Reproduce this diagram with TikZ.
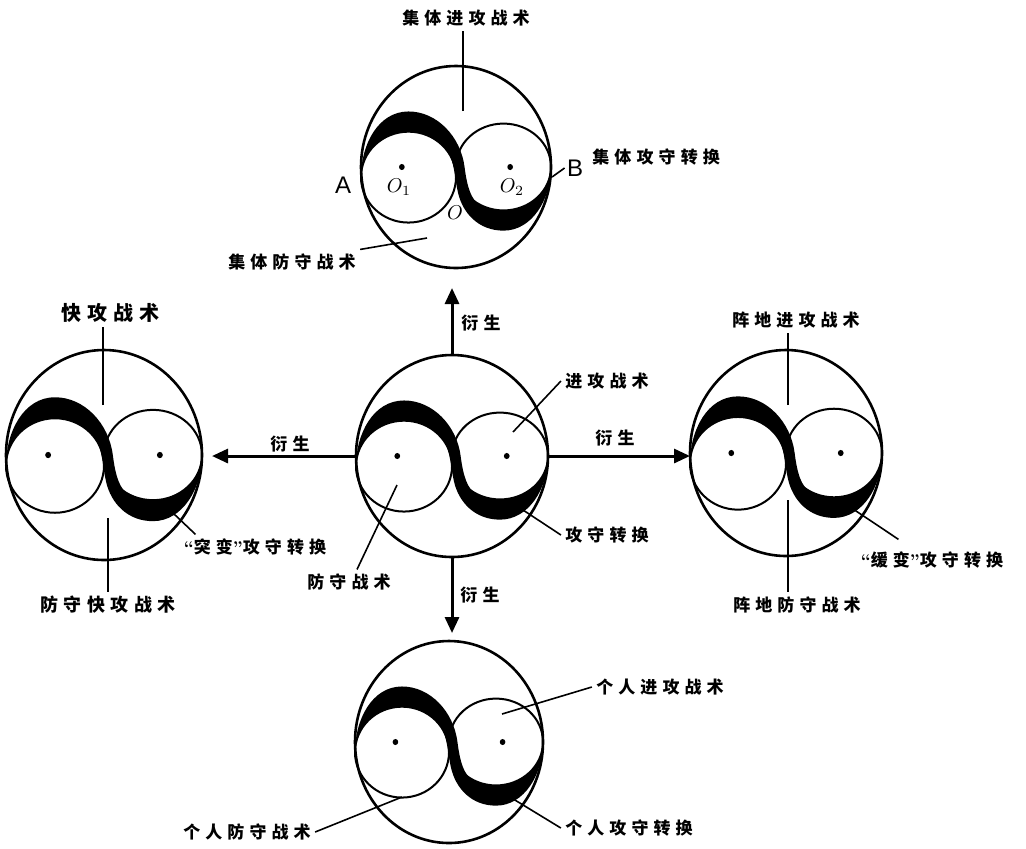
\documentclass[tikz,border=0pt]{standalone}
\usepackage{fontspec}
\newfontfamily\cjk[LetterSpace=30]{Noto Sans CJK SC}
\setsansfont{Liberation Sans}
\usetikzlibrary{shapes.geometric,arrows.meta}
\newcommand\myLQ{{\rmfamily\bfseries “}}
\newcommand\myRQ{{\rmfamily\bfseries ”}}
\newcommand\drawtaiji[5]{%
  \node[bigc, minimum width=#4pt, minimum height=#5pt] (#1) at (#2,#3) {};
  \begin{scope}[shift={(#2,#3)}, xscale=#4, yscale=-#5]
    \fill (-1,-0.1) .. controls (-1,0.22) and (-0.82,0.55) .. (-0.5,0.55)
      .. controls (-0.2,0.55) and (0.05,0.3) .. (0.09,0)
      .. controls (0.117,-0.2) and (0.16,-0.327) .. (0.25,-0.372)
      arc[start angle=240, end angle=360, x radius=0.5, y radius=0.43]
      .. controls (1,-0.32) and (0.8,-0.63) .. (0.5,-0.63)
      .. controls (0.24,-0.63) and (0.07,-0.46) .. (0.02,-0.25)
      .. controls (-0.01,-0.13) and (-0.017,0.063) .. (-0.09,0.158)
      arc[start angle=35, end angle=180, x radius=0.5, y radius=0.45] -- cycle;
    \draw[smallc] (-0.5,-0.1) ellipse[x radius=0.5, y radius=0.45];
    \draw[smallc] (0.5,0) ellipse[x radius=0.5, y radius=0.43];
    \fill (-0.57,0) circle[radius=0.03];
    \fill (0.57,0) circle[radius=0.03];
  \end{scope}}
\begin{document}
\begin{tikzpicture}[x=0.5pt,y=-0.5pt,
  bigc/.style={draw, ellipse, line width=1.3pt, inner sep=0pt, outer sep=0pt},
  smallc/.style={line width=1pt},
  lead/.style={line width=0.8pt},
  arr/.style={line width=1.5pt, -{Triangle[length=8pt,width=7pt]}},
  lab/.style={font=\cjk\bfseries\fontsize{8.5}{10}\selectfont, inner sep=2pt},
  labbig/.style={font=\cjk\bfseries\fontsize{10}{12}\selectfont, inner sep=2pt},
  latin/.style={font=\sffamily\fontsize{12}{14}\selectfont, inner sep=1pt},
  ital/.style={font=\fontsize{10}{12}\selectfont, inner sep=0pt}]
\useasboundingbox (0,0) rectangle (1026,848);

% diagrams
\drawtaiji{T}{456}{167}{95}{101}
\drawtaiji{L}{104}{455}{98}{105}
\drawtaiji{C}{452}{456}{96}{101}
\drawtaiji{R}{786}{453}{96}{103}
\drawtaiji{B}{449}{742}{94}{101}

% arrows
\draw[arr, shorten >=10pt] (C.north) -- (C.north |- T.south);
\draw[arr, shorten >=5pt] (C.west) -- (C.west -| L.east);
\draw[arr] (C.east) -- (C.east -| R.west);
\draw[arr, shorten >=4pt] (C.south) -- (C.south |- B.north);
\node[lab] (y1) at (481,323) {衍生};
\node[lab] (y2) at (290,444) {衍生};
\node[lab] (y3) at (615,438) {衍生};
\node[lab] (y4) at (480,595) {衍生};

% top diagram labels
\node[lab] (t1) at (466,18) {集体进攻战术};
\coordinate (ta1) at (463,111);
\draw[lead] (ta1) -- (ta1 |- t1.south);
\node[latin] (lA) at (343,185) {A};
\node[latin] (lB) at (575,168) {B};
\coordinate (tb) at (552,177);
\draw[lead] (tb) -- (lB.west);
\node[lab, anchor=west] (t2) at (588,157) {集体攻守转换};
\node[ital] (o1) at (399,187) {$O_1$};
\node[ital] (o2) at (512,187) {$O_2$};
\node[ital] (oo) at (455,213) {$O$};
\node[lab] (t3) at (292,262) {集体防守战术};
\coordinate (ta2) at (427,238);
\draw[lead] (ta2) -- (t3.north east);

% left diagram labels
\node[labbig] (l1) at (110,313) {快攻战术};
\coordinate (la1) at (103,405);
\draw[lead] (la1) -- (la1 |- l1.south);
\node[lab, font=\cjk\bfseries\fontsize{9}{11}\selectfont] (l2) at (108,605) {防守快攻战术};
\coordinate (la2) at (108,518);
\draw[lead] (la2) -- (la2 |- l2.north);
\node[lab] (l3) at (255,547) {\myLQ 突变\myRQ 攻守转换};
\coordinate (la3) at (173,513);
\draw[lead] (la3) -- ([xshift=8pt]l3.north west);

% centre diagram labels
\node[lab] (c1) at (607,381) {进攻战术};
\coordinate (ca1) at (513,432);
\draw[lead] (ca1) -- (c1.west);
\node[lab] (c2) at (607,535) {攻守转换};
\coordinate (ca2) at (520,508);
\draw[lead] (ca2) -- (c2.west);
\node[lab] (c3) at (349,582) {防守战术};
\coordinate (ca3) at (397,485);
\draw[lead] (ca3) -- ([xshift=4pt]c3.north);

% right diagram labels
\node[lab] (r1) at (796,320) {阵地进攻战术};
\coordinate (ra1) at (788,405);
\draw[lead] (ra1) -- (ra1 |- r1.south);
\node[lab] (r2) at (797,605) {阵地防守战术};
\coordinate (ra2) at (788,500);
\draw[lead] (ra2) -- (ra2 |- r2.north);
\node[lab] (r3) at (932,560) {\myLQ 缓变\myRQ 攻守转换};
\coordinate (ra3) at (850,507);
\draw[lead] (ra3) -- ([xshift=21pt,yshift=4pt]r3.north west);

% bottom diagram labels
\node[lab] (b1) at (660,687) {个人进攻战术};
\coordinate (ba1) at (502,714);
\draw[lead] (ba1) -- (b1.west);
\node[lab] (b2) at (629,828) {个人攻守转换};
\coordinate (ba2) at (510,797);
\draw[lead] (ba2) -- (b2.west);
\node[lab] (b3) at (247,832) {个人防守战术};
\coordinate (ba3) at (402,797);
\draw[lead] (ba3) -- (b3.east);
\end{tikzpicture}
\end{document}
